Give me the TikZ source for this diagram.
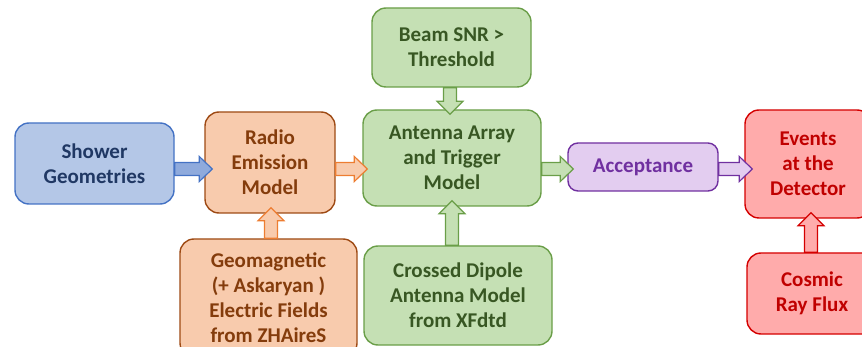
\documentclass[tikz,border=0pt]{standalone}
\usepackage{fontspec}
\setmainfont{Carlito}
\usetikzlibrary{calc}

\definecolor{blueFill}{HTML}{B4C7E7}
\definecolor{blueLine}{HTML}{4472C4}
\definecolor{blueText}{HTML}{203864}
\definecolor{blueArrow}{HTML}{8FAADC}
\definecolor{orFill}{HTML}{F8CBAD}
\definecolor{orLine}{HTML}{9E4A14}
\definecolor{orArrowLine}{HTML}{ED7D31}
\definecolor{orText}{HTML}{843C0C}
\definecolor{grFill}{HTML}{C5E0B4}
\definecolor{grLine}{HTML}{6A9E48}
\definecolor{grText}{HTML}{385723}
\definecolor{puFill}{HTML}{E3CDF0}
\definecolor{puLine}{HTML}{7030A0}
\definecolor{puText}{HTML}{7030A0}
\definecolor{rdFill}{HTML}{FFABAB}
\definecolor{rdLine}{HTML}{D40000}
\definecolor{rdText}{HTML}{C00000}

\tikzset{
  box/.style={draw, rounded corners=14pt, line width=1.4pt, align=center,
    inner sep=2pt, font=\fontsize{21}{25}\selectfont\bfseries},
  bluebox/.style={box, fill=blueFill, draw=blueLine, text=blueText},
  orbox/.style={box, fill=orFill, draw=orLine, text=orText},
  grbox/.style={box, fill=grFill, draw=grLine, text=grText},
  pubox/.style={box, fill=puFill, draw=puLine, text=puText, rounded corners=10pt},
  rdbox/.style={box, fill=rdFill, draw=rdLine, text=rdText},
  barrow/.style={line width=1.2pt, line join=miter},
  bluearrow/.style={barrow, fill=blueArrow, draw=blueLine},
  orarrow/.style={barrow, fill=orFill, draw=orArrowLine},
  grarrow/.style={barrow, fill=grFill, draw=grLine},
  puarrow/.style={barrow, fill=puFill, draw=puLine},
  rdarrow/.style={barrow, fill=rdFill, draw=rdLine},
}

% block arrow pointing right: shaft starts at #1, tip at the x of #2
\newcommand\rightblock[3]{%
  \draw[#3] let \p1=(#1), \p2=(#2) in
    (\x1,\y1+6.5pt) -- (\x2-13pt,\y1+6.5pt) -- (\x2-13pt,\y1+12.5pt) --
    (\x2,\y1) -- (\x2-13pt,\y1-12.5pt) -- (\x2-13pt,\y1-6.5pt) --
    (\x1,\y1-6.5pt) -- cycle;}
% block arrow pointing up or down: shaft starts at #1, tip at the y of #2
\newcommand\vertblock[3]{%
  \draw[#3] let \p1=(#1), \p2=(#2), \n1={sign(\y2-\y1)*13pt} in
    (\x1+6.5pt,\y1) -- (\x1+6.5pt,\y2-\n1) -- (\x1+13pt,\y2-\n1) --
    (\x1,\y2) -- (\x1-13pt,\y2-\n1) -- (\x1-6.5pt,\y2-\n1) --
    (\x1-6.5pt,\y1) -- cycle;}

\begin{document}
\begin{tikzpicture}[x=1pt, y=-1pt]
  \useasboundingbox (0,0) rectangle (862,347);

  \node[bluebox, minimum width=159pt, minimum height=81pt] (shower)
    at (94.5,163.5) {Shower\\Geometries};
  \node[orbox, minimum width=130pt, minimum height=101pt] (radio)
    at (270,162.5) {Radio\\Emission\\Model};
  \node[grbox, minimum width=159pt, minimum height=79pt] (beam)
    at (451.5,47.5) {Beam SNR >\\Threshold};
  \node[grbox, minimum width=178pt, minimum height=96pt] (antenna)
    at (452,158) {Antenna Array\\and Trigger\\Model};
  \node[pubox, minimum width=150pt, minimum height=48pt] (accept)
    at (643,167) {Acceptance};
  \node[rdbox, minimum width=126pt, minimum height=108pt] (events)
    at (808,164) {Events\\at the\\Detector};
  \node[rdbox, minimum width=130pt, minimum height=81pt] (cosmic)
    at (812,293.5) {Cosmic\\Ray Flux};
  \node[orbox, minimum width=177pt, minimum height=118pt] (geomag)
    at (268.5,298) {Geomagnetic\\(+ Askaryan )\\Electric Fields\\from ZHAireS};
  \node[grbox, minimum width=188pt, minimum height=99pt] (crossed)
    at (458,295.5) {Crossed Dipole\\Antenna Model\\from XFdtd};

  % horizontal chain
  \rightblock{[yshift=-5.5pt]shower.east}{[xshift=8pt]radio.west}{bluearrow}
  \rightblock{[yshift=-6.5pt]radio.east}{[xshift=5pt]antenna.west}{orarrow}
  \rightblock{[yshift=-11pt]antenna.east}{[xshift=6pt]accept.west}{grarrow}
  \rightblock{[yshift=-2pt]accept.east}{[xshift=8pt]events.west}{puarrow}

  % vertical inputs
  \vertblock{[xshift=-1.5pt]beam.south}{[yshift=-5pt]antenna.north}{grarrow}
  \vertblock{[xshift=-6pt]crossed.north}{[yshift=6pt]antenna.south}{grarrow}
  \vertblock{[xshift=2.5pt]geomag.north}{[yshift=6pt]radio.south}{orarrow}
  \vertblock{[xshift=-1pt]cosmic.north}{[yshift=6pt]events.south}{rdarrow}
\end{tikzpicture}
\end{document}
